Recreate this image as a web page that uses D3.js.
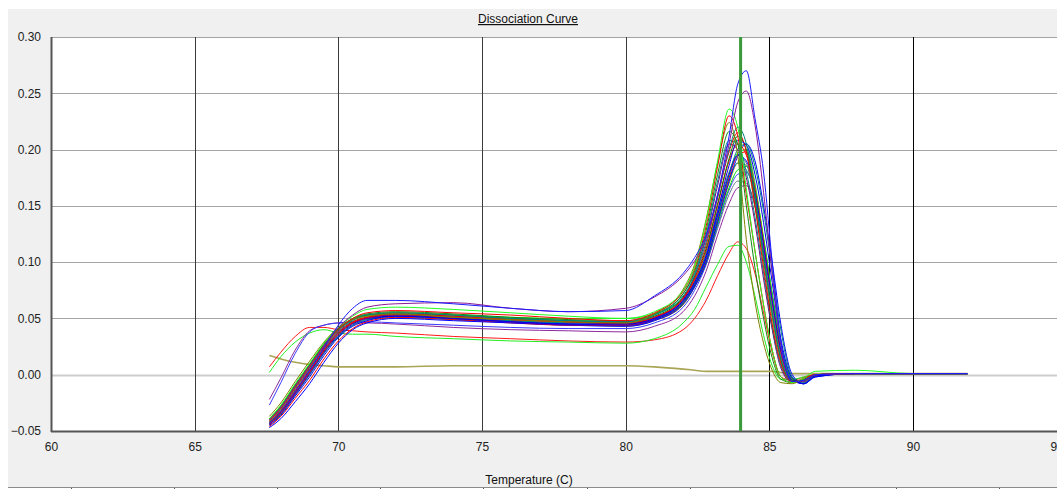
<!DOCTYPE html>
<html>
<head>
<meta charset="utf-8">
<script src="https://cdn.jsdelivr.net/npm/d3@7"></script>
<style>
  html, body { margin: 0; padding: 0; background: #fff; overflow: hidden; }
  svg { display: block; font-family: "Liberation Sans", Arial, sans-serif; }
</style>
</head>
<body>
<svg id="chart" width="1057" height="489"></svg>
<script>
// Melt temperatures (°C) shared by every well
const temps = [67.6, 68.0, 68.5, 69.0, 69.5, 70.0, 70.5, 71.0, 72.0, 74.0, 76.0, 78.0, 80.0,
               81.0, 82.0, 82.4, 82.8, 83.2, 83.6, 83.9, 84.2, 84.5, 84.8, 85.1, 85.4, 85.8,
               86.2, 86.6, 88.0, 90.0, 91.9];

// Derivative reporter (-Rn') for each well
const blueTop    = [-0.043,-0.033,-0.015,0.004,0.024,0.044,0.059,0.066, 0.066,0.063,0.059,0.056,0.057, 0.070,0.090,0.104,0.124,0.160,0.212,0.258, 0.270,0.228,0.180,0.100,0.030,-0.006,-0.005, 0.000,0.001,0.001,0.001];
const purpleTop  = [-0.040,-0.029,-0.010,0.008,0.026,0.042,0.053,0.060, 0.063,0.064,0.059,0.056,0.059, 0.069,0.088,0.101,0.121,0.157,0.205,0.242, 0.252,0.222,0.162,0.090,0.026,-0.006,-0.006, 0.000,0.001,0.001,0.001];
const greenA     = [-0.039,-0.027,-0.008,0.010,0.028,0.042,0.052,0.058, 0.060,0.058,0.055,0.052,0.050, 0.056,0.075,0.096,0.136,0.190,0.236,0.220, 0.165,0.110,0.062,0.022,-0.002,-0.007,-0.003, 0.003,0.004,0.001,0.001];
const redA       = [-0.041,-0.030,-0.011,0.007,0.025,0.040,0.050,0.055, 0.057,0.055,0.053,0.050,0.048, 0.055,0.074,0.094,0.132,0.185,0.230,0.212, 0.160,0.110,0.062,0.022,-0.002,-0.007,-0.003, 0.000,0.001,0.001,0.001];
const oliveA     = [-0.037,-0.025,-0.006,0.012,0.029,0.042,0.049,0.052, 0.054,0.051,0.049,0.047,0.046, 0.054,0.076,0.098,0.138,0.188,0.224,0.195, 0.120,0.065,0.028,0.004,-0.007,-0.008,-0.003, 0.000,0.001,0.001,0.001];
const tealA      = [-0.042,-0.031,-0.012,0.006,0.024,0.039,0.048,0.053, 0.055,0.053,0.050,0.048,0.047, 0.053,0.070,0.088,0.118,0.160,0.200,0.220, 0.205,0.160,0.105,0.055,0.015,-0.006,-0.006, 0.000,0.001,0.001,0.001];
const redB       = [-0.044,-0.034,-0.016,0.002,0.021,0.036,0.046,0.051, 0.054,0.052,0.049,0.047,0.045, 0.051,0.068,0.086,0.115,0.158,0.198,0.215, 0.198,0.150,0.095,0.045,0.010,-0.006,-0.005, 0.000,0.001,0.001,0.001];
const darkGreenA = [-0.040,-0.029,-0.010,0.008,0.026,0.040,0.049,0.053, 0.055,0.053,0.050,0.048,0.047, 0.052,0.069,0.086,0.112,0.152,0.192,0.212, 0.200,0.158,0.105,0.055,0.014,-0.005,-0.005, 0.000,0.001,0.001,0.001];
const blueB      = [-0.045,-0.036,-0.019,-0.002,0.017,0.033,0.043,0.048, 0.052,0.050,0.047,0.045,0.045, 0.050,0.066,0.082,0.106,0.145,0.186,0.208, 0.204,0.178,0.135,0.082,0.032,-0.003,-0.008, -0.001,0.001,0.001,0.001];
const purpleB    = [-0.043,-0.033,-0.015,0.003,0.022,0.037,0.046,0.050, 0.053,0.050,0.047,0.044,0.044, 0.050,0.068,0.088,0.122,0.168,0.205,0.200, 0.175,0.135,0.085,0.040,0.006,-0.007,-0.005, 0.000,0.001,0.001,0.001];
const tealB      = [-0.044,-0.035,-0.017,0.000,0.019,0.034,0.044,0.049, 0.052,0.050,0.048,0.046,0.046, 0.051,0.066,0.082,0.104,0.140,0.178,0.200, 0.205,0.185,0.145,0.092,0.040,-0.002,-0.008, -0.001,0.001,0.001,0.001];
const greenB     = [-0.041,-0.030,-0.011,0.007,0.025,0.040,0.049,0.053, 0.054,0.053,0.051,0.050,0.050, 0.054,0.068,0.084,0.106,0.142,0.178,0.197, 0.200,0.170,0.120,0.068,0.022,-0.004,-0.006, 0.000,0.001,0.001,0.001];
const slateA     = [-0.043,-0.033,-0.015,0.004,0.022,0.037,0.046,0.050, 0.052,0.050,0.048,0.046,0.045, 0.050,0.066,0.083,0.108,0.146,0.180,0.195, 0.188,0.155,0.108,0.060,0.018,-0.005,-0.006, 0.000,0.001,0.001,0.001];
const redC       = [-0.046,-0.037,-0.021,-0.005,0.014,0.030,0.041,0.047, 0.051,0.049,0.046,0.044,0.044, 0.049,0.064,0.080,0.102,0.138,0.175,0.195, 0.198,0.168,0.118,0.065,0.020,-0.004,-0.006, 0.000,0.001,0.001,0.001];
const blueC      = [-0.044,-0.034,-0.017,0.001,0.020,0.035,0.045,0.050, 0.052,0.050,0.047,0.045,0.044, 0.049,0.065,0.080,0.104,0.142,0.178,0.195, 0.190,0.162,0.115,0.066,0.022,-0.005,-0.008, -0.002,0.001,0.001,0.001];
const oliveB     = [-0.039,-0.028,-0.009,0.009,0.027,0.041,0.049,0.052, 0.053,0.051,0.048,0.045,0.043, 0.048,0.062,0.078,0.100,0.136,0.170,0.188, 0.186,0.150,0.100,0.050,0.012,-0.006,-0.005, 0.000,0.001,0.001,0.001];
const tealC      = [-0.042,-0.032,-0.014,0.004,0.023,0.038,0.047,0.051, 0.052,0.049,0.047,0.045,0.044, 0.049,0.064,0.080,0.103,0.140,0.174,0.188, 0.182,0.160,0.120,0.072,0.028,-0.003,-0.007, -0.001,0.001,0.001,0.001];
const blueEarly  = [-0.027,-0.007,0.019,0.038,0.044,0.046,0.047,0.047, 0.046,0.044,0.042,0.041,0.041, 0.046,0.060,0.075,0.098,0.132,0.164,0.178, 0.180,0.160,0.118,0.070,0.025,-0.004,-0.008, -0.001,0.001,0.001,0.001];
const purpleEarly= [-0.022,-0.003,0.022,0.039,0.044,0.046,0.046,0.046, 0.045,0.042,0.040,0.039,0.038, 0.043,0.056,0.070,0.092,0.124,0.152,0.166, 0.168,0.150,0.110,0.065,0.022,-0.004,-0.007, -0.001,0.001,0.001,0.001];
const greenC     = [-0.043,-0.033,-0.016,0.002,0.021,0.036,0.046,0.051, 0.053,0.051,0.049,0.047,0.046, 0.050,0.064,0.079,0.100,0.134,0.166,0.182, 0.185,0.165,0.122,0.072,0.026,-0.003,-0.006, 0.000,0.001,0.001,0.001];
const redLow     = [0.007,0.020,0.034,0.042,0.042,0.040,0.039,0.038, 0.037,0.034,0.032,0.030,0.029, 0.031,0.040,0.050,0.066,0.088,0.108,0.118, 0.112,0.090,0.055,0.020,-0.002,-0.005,-0.002, 0.000,0.001,0.001,0.001];
const greenLow   = [0.002,0.016,0.029,0.037,0.040,0.037,0.036,0.036, 0.034,0.032,0.030,0.029,0.028, 0.032,0.046,0.058,0.078,0.098,0.114,0.115, 0.100,0.070,0.035,0.008,-0.004,-0.004,-0.002, 0.000,0.001,0.001,0.001];
const oliveFlat  = [0.017,0.014,0.011,0.009,0.008,0.007,0.007,0.007, 0.007,0.008,0.008,0.008,0.008, 0.007,0.005,0.004,0.003,0.003,0.003,0.003, 0.003,0.003,0.003,0.003,0.002,0.001,0.001, 0.001,0.001,0.001,0.001];
const blueD      = [-0.047,-0.039,-0.024,-0.008,0.011,0.028,0.040,0.046, 0.050,0.048,0.046,0.044,0.043, 0.048,0.063,0.078,0.100,0.136,0.172,0.194, 0.205,0.190,0.150,0.100,0.045,0.000,-0.008, -0.002,0.001,0.001,0.001];
const redD       = [-0.042,-0.032,-0.013,0.005,0.023,0.038,0.047,0.051, 0.053,0.051,0.049,0.047,0.046, 0.051,0.067,0.084,0.110,0.150,0.190,0.205, 0.195,0.165,0.118,0.066,0.020,-0.005,-0.006, 0.000,0.001,0.001,0.001];
const darkGreenB = [-0.039,-0.028,-0.009,0.009,0.027,0.041,0.050,0.054, 0.056,0.054,0.051,0.049,0.048, 0.054,0.072,0.092,0.128,0.178,0.216,0.205, 0.150,0.095,0.050,0.015,-0.004,-0.007,-0.004, 0.000,0.001,0.001,0.001];
const tealD      = [-0.040,-0.029,-0.010,0.008,0.026,0.040,0.049,0.053, 0.054,0.052,0.050,0.048,0.047, 0.053,0.072,0.090,0.124,0.172,0.208,0.205, 0.180,0.140,0.090,0.042,0.008,-0.006,-0.005, 0.000,0.001,0.001,0.001];
const slateB     = [-0.044,-0.035,-0.018,0.000,0.019,0.034,0.044,0.049, 0.051,0.049,0.047,0.045,0.044, 0.049,0.063,0.078,0.098,0.130,0.160,0.172, 0.170,0.150,0.110,0.064,0.022,-0.004,-0.007, -0.001,0.001,0.001,0.001];

// Axis ticks and the selected melt temperature
const xTicks = [60, 65, 70, 75, 80, 85, 90, 95];
const yTicks = [-0.05, 0.00, 0.05, 0.10, 0.15, 0.20, 0.25, 0.30];
const markerTemp = 84.0;

// Drawing order and colour per well
const wells = [
  [oliveFlat, "#a9a556"], [redLow, "#ff1a1a"], [greenLow, "#22ee22"],
  [slateB, "#667788"], [purpleEarly, "#8e2a9e"], [blueEarly, "#3a3aff"],
  [oliveB, "#8a8a10"], [tealC, "#1a8a8a"], [redC, "#ff0000"], [greenC, "#00dd00"],
  [blueD, "#0000ff"], [slateA, "#5f6f80"], [tealB, "#008080"], [greenB, "#22ee22"],
  [redD, "#ff0000"], [blueC, "#0000ff"], [darkGreenA, "#008000"], [purpleB, "#800080"],
  [tealD, "#008888"], [redB, "#ee0000"], [blueB, "#0000ee"], [tealA, "#008080"],
  [darkGreenB, "#108a10"], [oliveA, "#808000"], [redA, "#ff0000"], [greenA, "#22ff22"],
  [purpleTop, "#8a1a9a"], [blueTop, "#1a1aff"]
];

const svg = d3.select("#chart");
const W = 1057, H = 489;
const plot = { left: 51, top: 37, bottom: 431 };

const x = d3.scaleLinear().domain([60, 95]).range([plot.left, plot.left + 35 * 28.733]);
const y = d3.scaleLinear().domain([-0.05, 0.30]).range([plot.bottom, plot.top]);

// Panel frame
svg.append("rect").attr("x", 8).attr("y", 9).attr("width", W - 8).attr("height", 478).attr("fill", "#f0f0f0");
svg.append("rect").attr("x", plot.left).attr("y", plot.top)
  .attr("width", W - plot.left).attr("height", plot.bottom - plot.top).attr("fill", "#ffffff");

// Bottom edge of the panel with its small marks
svg.append("line").attr("x1", 8).attr("x2", W).attr("y1", 487.5).attr("y2", 487.5)
  .attr("stroke", "#8a8a8a").attr("stroke-width", 1);
svg.append("g").selectAll("line").data(d3.range(71, W, 103.1)).join("line")
  .attr("x1", d => Math.round(d) + 0.5).attr("x2", d => Math.round(d) + 0.5)
  .attr("y1", 488).attr("y2", 489).attr("stroke", "#555");

// Horizontal grid
svg.append("g").selectAll("line").data(yTicks.filter(v => v > -0.05)).join("line")
  .attr("x1", plot.left).attr("x2", W)
  .attr("y1", d => Math.round(y(d)) + 0.5).attr("y2", d => Math.round(y(d)) + 0.5)
  .attr("stroke", d => d === 0 ? "#cdcdcd" : "#a3a3a3")
  .attr("stroke-width", d => d === 0 ? 2 : 1);

// Vertical grid
svg.append("g").selectAll("line").data(xTicks.filter(v => v > 60 && v < 95)).join("line")
  .attr("x1", d => Math.round(x(d)) + 0.5).attr("x2", d => Math.round(x(d)) + 0.5)
  .attr("y1", plot.top).attr("y2", plot.bottom)
  .attr("stroke", d => d < 85 ? "#3a3a3a" : "#000").attr("stroke-width", 1);

// Axis lines
svg.append("line").attr("x1", plot.left + 0.5).attr("x2", plot.left + 0.5)
  .attr("y1", plot.top).attr("y2", plot.bottom + 1).attr("stroke", "#555").attr("stroke-width", 2);
svg.append("line").attr("x1", plot.left).attr("x2", W)
  .attr("y1", plot.bottom + 0.5).attr("y2", plot.bottom + 0.5).attr("stroke", "#555").attr("stroke-width", 2);

// Tick labels
const yAxis = svg.append("g").attr("transform", `translate(${plot.left},0)`)
  .call(d3.axisLeft(y).tickValues(yTicks).tickFormat(d3.format(".2f")).tickSize(0).tickPadding(10));
const xAxis = svg.append("g").attr("transform", `translate(0,${plot.bottom})`)
  .call(d3.axisBottom(x).tickValues(xTicks).tickFormat(d3.format("d")).tickSize(0).tickPadding(11));
[yAxis, xAxis].forEach(g => {
  g.select(".domain").remove();
  g.selectAll("text").attr("fill", "#222").style("font-size", "12px")
    .style("font-family", '"Liberation Sans", Arial, sans-serif');
});

// Melt curves
const line = d3.line()
  .x((d, i) => x(temps[i]))
  .y(d => y(d))
  .curve(d3.curveMonotoneX);

svg.append("g").selectAll("path").data(wells).join("path")
  .attr("d", d => line(d[0]))
  .attr("fill", "none")
  .attr("stroke", d => d[1])
  .attr("stroke-width", (d) => d[0] === oliveFlat ? 1.6 : 1);

// Selected melt temperature marker
svg.append("line")
  .attr("x1", x(markerTemp)).attr("x2", x(markerTemp))
  .attr("y1", plot.top).attr("y2", plot.bottom)
  .attr("stroke", "#3a9a3a").attr("stroke-width", 3);

// Titles
svg.append("text").attr("x", 528).attr("y", 23).attr("text-anchor", "middle")
  .attr("font-size", 12).attr("fill", "#111").attr("text-decoration", "underline")
  .text("Dissociation Curve");
svg.append("text").attr("x", 529).attr("y", 484).attr("text-anchor", "middle")
  .attr("font-size", 12).attr("fill", "#111")
  .text("Temperature (C)");
</script>
</body>
</html>
